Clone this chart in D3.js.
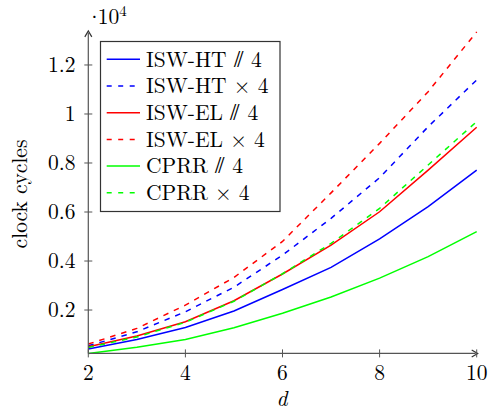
<!DOCTYPE html>
<html><head><meta charset="utf-8">
<script src="https://cdn.jsdelivr.net/npm/d3@7"></script>
<style>body{margin:0;background:#fff}svg{display:block}</style>
</head><body><div id="chart"></div>
<script>
const dValues = [2,3,4,5,6,7,8,9,10];
const xTicks = [2,4,6,8,10];
const yTicks = [2000,4000,6000,8000,10000,12000];
const yTickLabels = ["0.2","0.4","0.6","0.8","1","1.2"];
const seriesNames = ["ISW-HT \u2AFD 4","ISW-HT \u00D7 4","ISW-EL \u2AFD 4","ISW-EL \u00D7 4","CPRR \u2AFD 4","CPRR \u00D7 4"];
const iswHtSlash = [410,800,1290,1960,2840,3740,4900,6220,7710];
const iswHtTimes = [540,1110,1930,2930,4240,5740,7400,9480,11390];
const iswElSlash = [500,940,1520,2380,3470,4650,6010,7710,9460];
const iswElTimes = [610,1250,2200,3330,4800,6780,8800,10910,13350];
const cprrSlash = [230,480,800,1280,1870,2530,3300,4180,5200];
const cprrTimes = [470,900,1500,2360,3480,4720,6150,7920,9690];
const seriesValues = [iswHtSlash,iswHtTimes,iswElSlash,iswElTimes,cprrSlash,cprrTimes];
const seriesColors = ["#0000ff","#0000ff","#ff0000","#ff0000","#00ff00","#00ff00"];
const seriesDashed = [false,true,false,true,false,true];

const FONT = '"Latin Modern Roman"';
const FS = 21.5;
const W=488,H=414;
const svg=d3.select("#chart").append("svg").attr("width",W).attr("height",H);
function txt(xp,yp,s,size){
  return svg.append("text").attr("x",xp).attr("y",yp).attr("font-size",size||FS)
    .style("font-family",FONT).attr("fill","#000").text(s);
}
const x=d3.scaleLinear().domain([2,10]).range([88.3,476.7]);
const yMin=d3.min(seriesValues.flat()), yMax=d3.max(seriesValues.flat());
const y=d3.scaleLinear().domain([yMin,yMax]).range([353.4,31.9]);
const axisColor="#555";

// lines
const line=d3.line().x((v,i)=>x(dValues[i])).y(v=>y(v));
seriesValues.forEach((vals,k)=>{
  svg.append("path").attr("d",line(vals)).attr("fill","none")
    .attr("stroke",seriesColors[k]).attr("stroke-width",1.5)
    .attr("stroke-dasharray",seriesDashed[k]?"5.5,6":null);
});

// axes
const x0=x(2), yAx=y(yMin);
svg.append("line").attr("x1",x0).attr("x2",x(10)-1).attr("y1",yAx).attr("y2",yAx).attr("stroke",axisColor).attr("stroke-width",1.2);
svg.append("line").attr("x1",x0).attr("x2",x0).attr("y1",yAx).attr("y2",y(yMax)+1).attr("stroke",axisColor).attr("stroke-width",1.2);
const xe=x(10)+1, ye=y(yMax)-1;
svg.append("path").attr("d",`M${xe-6},${yAx-3.5} L${xe},${yAx} L${xe-6},${yAx+3.5}`).attr("fill","none").attr("stroke","#333").attr("stroke-width",1.2);
svg.append("path").attr("d",`M${x0-3.5},${ye+6} L${x0},${ye} L${x0+3.5},${ye+6}`).attr("fill","none").attr("stroke","#333").attr("stroke-width",1.2);

// ticks
xTicks.forEach(t=>{
  svg.append("line").attr("x1",x(t)).attr("x2",x(t)).attr("y1",yAx-4).attr("y2",yAx+4).attr("stroke",axisColor).attr("stroke-width",1);
  txt(x(t),380,t).attr("text-anchor","middle");
});
yTicks.forEach((t,i)=>{
  svg.append("line").attr("x1",x0-4).attr("x2",x0+4).attr("y1",y(t)).attr("y2",y(t)).attr("stroke",axisColor).attr("stroke-width",1);
  txt(75.5,y(t)+7,yTickLabels[i]).attr("text-anchor","end");
});

// exponent
const ex=txt(86,24,"");
ex.append("tspan").text("\u00B7");
ex.append("tspan").attr("dx",-5).text("10");
ex.append("tspan").attr("font-size",15).attr("dy",-8.5).text("4");

// axis labels
txt(0,0,"clock cycles").attr("x",null).attr("y",null)
  .attr("transform","translate(27,194) rotate(-90)").attr("text-anchor","middle");
txt(282,406,"d").attr("text-anchor","middle").style("font-style","italic");

// legend
svg.append("rect").attr("x",100.5).attr("y",41.5).attr("width",179.5).attr("height",170).attr("fill","#fff").attr("stroke","#333").attr("stroke-width",1.2);
seriesNames.forEach((n,k)=>{
  const ry=59.3+k*26.7;
  svg.append("line").attr("x1",106.7).attr("x2",140).attr("y1",ry).attr("y2",ry)
    .attr("stroke",seriesColors[k]).attr("stroke-width",1.5).attr("stroke-dasharray",seriesDashed[k]?"5,6.5":null);
  txt(146,ry+7.3,n);
});
</script></body></html>
